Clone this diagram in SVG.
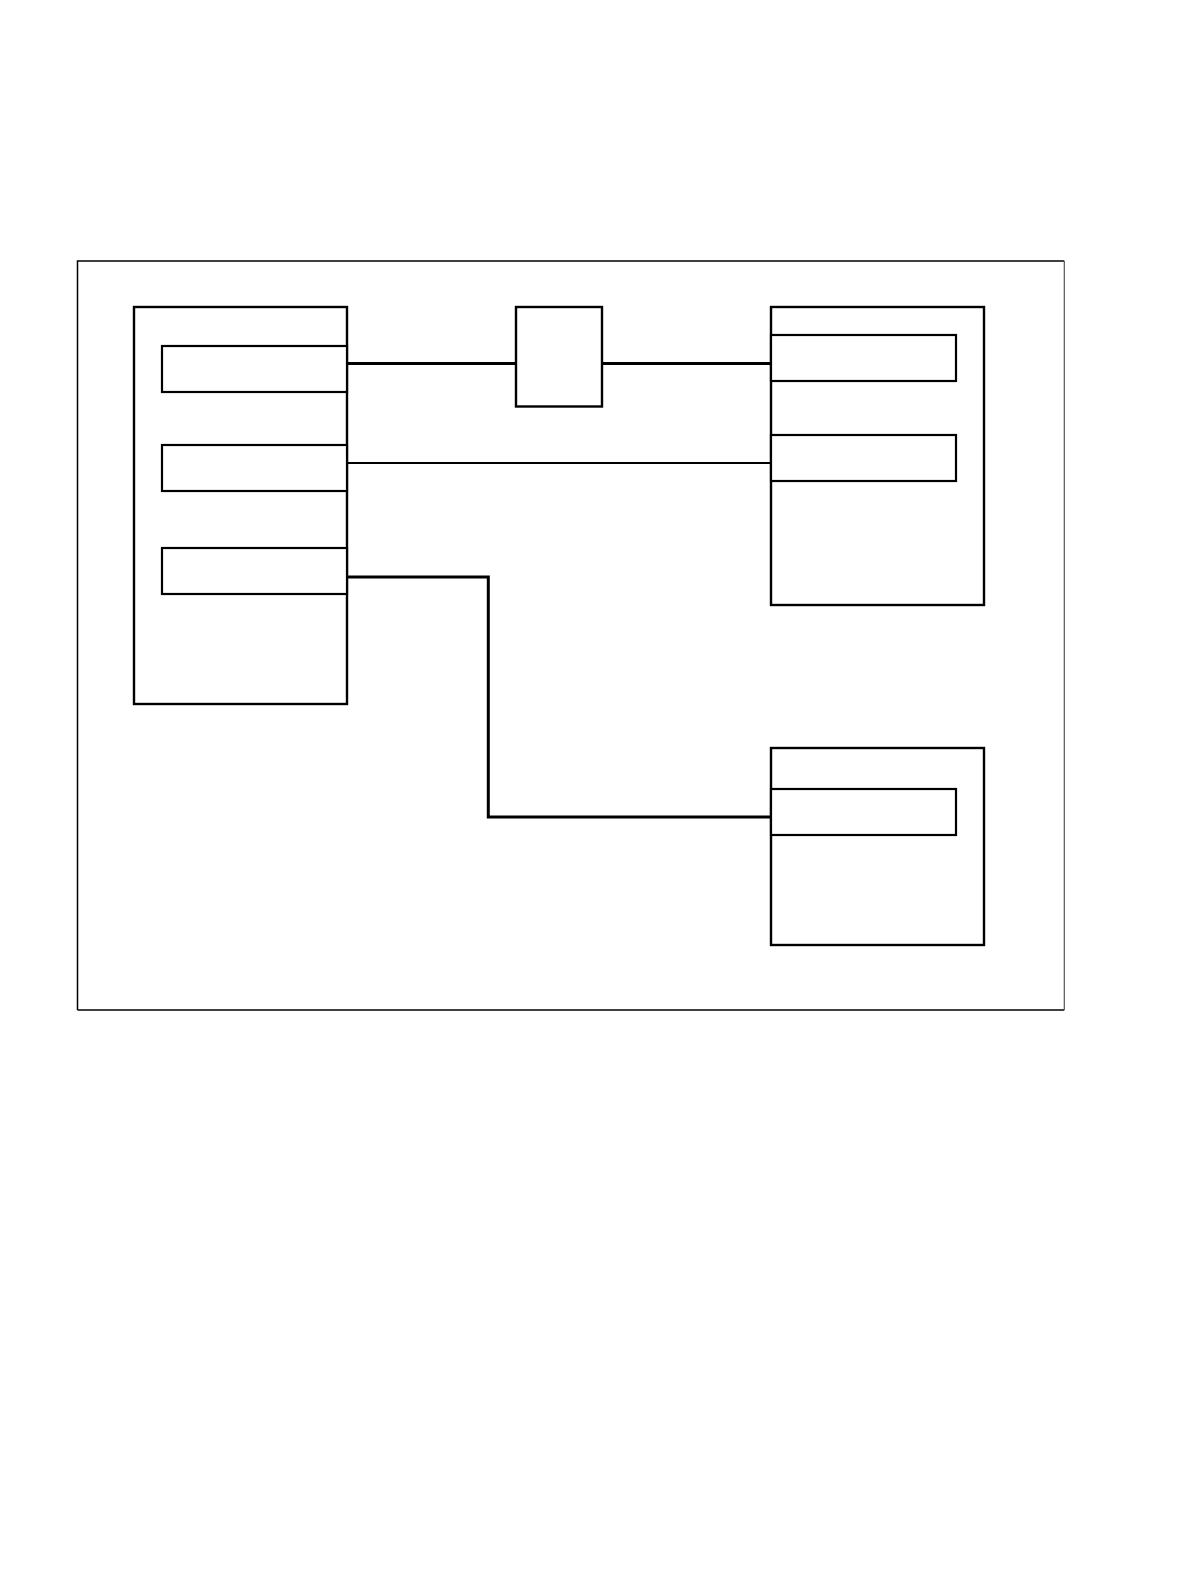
<svg xmlns="http://www.w3.org/2000/svg" width="1190" height="1582" viewBox="0 0 1190 1582">
<style>
.box{fill:#fff;stroke:#000;stroke-width:2.4}
.inner{fill:#fff;stroke:#000;stroke-width:2.2}
.frame{fill:none;stroke:#000;stroke-width:1.5}
.con{fill:none;stroke:#000;stroke-width:3}
.con-thin{fill:none;stroke:#000;stroke-width:2}
</style>
<rect width="1190" height="1582" fill="#fff"/>
<g id="frame">
<path class="frame" d="M77.5,1010 V261 H1064.3"/>
<path class="frame" d="M77.5,1010 H1064.3"/>
<path fill="none" stroke="#555" stroke-width="1.2" d="M1064.3,261 V1010"/>
</g>
<g id="connectors">
<path class="con" d="M347,363.5 H516"/>
<path class="con" d="M602,363.5 H771"/>
<path class="con-thin" d="M347,463 H771"/>
<path class="con" d="M347,577 H488.3 V817 H771"/>
</g>
<g id="left-node">
<rect class="box" x="134" y="307" width="213" height="397"/>
<rect id="left-port-1" class="inner" x="162" y="346" width="185" height="46"/>
<rect id="left-port-2" class="inner" x="162" y="445" width="185" height="46"/>
<rect id="left-port-3" class="inner" x="162" y="548" width="185" height="46"/>
</g>
<g id="center-node">
<rect class="box" x="516" y="307" width="86" height="99.5" stroke-width="3"/>
</g>
<g id="right-top-node">
<rect class="box" x="771" y="307" width="213" height="298"/>
<rect id="right-top-port-1" class="inner" x="771" y="335" width="185" height="46"/>
<rect id="right-top-port-2" class="inner" x="771" y="435" width="185" height="46"/>
</g>
<g id="right-bottom-node">
<rect class="box" x="771" y="748" width="213" height="197"/>
<rect id="right-bottom-port-1" class="inner" x="771" y="789" width="185" height="46"/>
</g>
</svg>
